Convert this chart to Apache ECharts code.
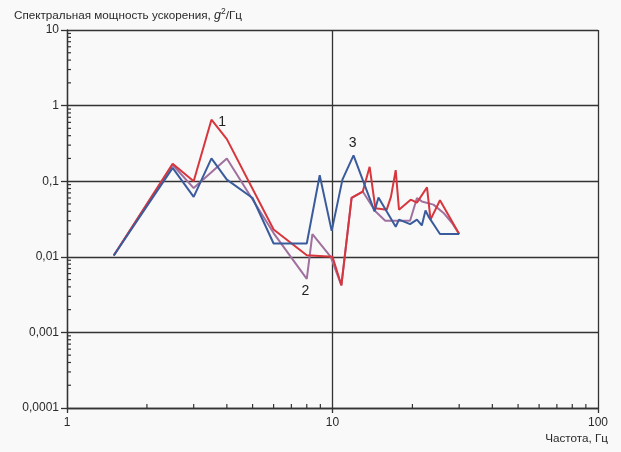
<!DOCTYPE html>
<html>
<head>
<meta charset="utf-8">
<script src="https://cdn.jsdelivr.net/npm/echarts@6/dist/echarts.min.js"></script>
<style>
html,body{margin:0;padding:0;background:#f9f9f9;}
#c{width:621px;height:452px;}
</style>
</head>
<body>
<div id="c"></div>
<script>
// ---- data ----
var freq1 = [1.5, 2.5, 3, 3.5, 4, 6, 8, 10, 10.8, 11.8, 13, 13.8, 14.5, 16, 16.6, 17.3, 17.8, 19.7, 20.8, 22.7, 23.4, 25.4, 30];
var psd1  = [0.0104, 0.17, 0.1, 0.65, 0.36, 0.023, 0.0105, 0.01, 0.0042, 0.06, 0.073, 0.155, 0.044, 0.042, 0.062, 0.14, 0.042, 0.057, 0.052, 0.083, 0.031, 0.056, 0.02];

var freq2 = [1.5, 2.5, 3, 4, 6, 8, 8.4, 9.85, 10.8, 11.8, 13, 14.5, 15.8, 19.6, 20.8, 21.7, 24, 26.2, 28.2, 30];
var psd2  = [0.0104, 0.165, 0.081, 0.2, 0.0206, 0.0051, 0.02, 0.01, 0.0042, 0.06, 0.073, 0.04, 0.03, 0.03, 0.06, 0.054, 0.049, 0.038, 0.028, 0.02];

var freq3 = [1.5, 2.5, 3, 3.5, 4, 5, 6, 8, 8.95, 9.93, 10.9, 12, 14.4, 14.9, 17.3, 17.8, 19.6, 20.8, 21.7, 22.4, 23, 25.4, 30];
var psd3  = [0.0104, 0.15, 0.062, 0.2, 0.105, 0.06, 0.015, 0.015, 0.12, 0.022, 0.105, 0.22, 0.04, 0.061, 0.025, 0.031, 0.027, 0.031, 0.026, 0.041, 0.034, 0.02, 0.02];

var curveNames = ['1', '2', '3'];
var labelX = [3.84, 7.9, 11.9];
var labelY = [0.61, 0.0035, 0.32];

var yTickLabels = ['0,0001', '0,001', '0,01', '0,1', '1', '10'];
var xTickLabels = ['1', '10', '100'];
var yTitle = 'Спектральная мощность ускорения, ';
var xTitle = 'Частота, Гц';

var colors = ['#d7363d', '#a0709f', '#3b5c9c'];

// minor tick values (axis decoration)
var xMinor = [], yMinor = [];
[1, 10].forEach(function (d) { for (var k = 2; k <= 9; k++) xMinor.push([k * d, 0.0001]); });
[0.0001, 0.001, 0.01, 0.1, 1].forEach(function (d) { for (var k = 2; k <= 9; k++) yMinor.push([1, +(k * d).toPrecision(3)]); });

function zip(a, b) { return a.map(function (v, i) { return [v, b[i]]; }); }

var axisCol = '#333';
var txtCol = '#2a2a2a';
var chart = echarts.init(document.getElementById('c'), null, { renderer: 'canvas' });

function lineSeries(idx, xs, ys) {
  return {
    type: 'line', data: zip(xs, ys), symbol: 'none',
    lineStyle: { color: colors[idx], width: 2 },
    itemStyle: { color: colors[idx] },
    z: idx === 2 ? 4 : (idx === 0 ? 3 : 2),
    markPoint: {
      symbol: 'circle', symbolSize: 0, silent: true,
      label: { show: true, position: 'inside', color: '#222', fontSize: 14, fontFamily: 'Liberation Sans, Arial', formatter: curveNames[idx] },
      data: [{ coord: [labelX[idx], labelY[idx]] }]
    }
  };
}

var option = {
  backgroundColor: '#f9f9f9',
  animation: false,
  title: {
    left: 9, top: 2,
    text: yTitle + '{i|g}{s|2}/Гц',
    textStyle: {
      fontSize: 11.7, fontWeight: 'normal', color: txtCol, fontFamily: 'Liberation Sans, Arial',
      rich: {
        i: { fontStyle: 'italic', fontSize: 12.5, color: txtCol, fontFamily: 'Liberation Sans, Arial' },
        s: { fontSize: 8.5, verticalAlign: 'top', padding: [0, 0, 8, 0], color: txtCol, fontFamily: 'Liberation Sans, Arial' }
      }
    }
  },
  grid: { left: 67, right: 23, top: 30, bottom: 44, containLabel: false },
  xAxis: {
    type: 'log', logBase: 10, min: 1, max: 100,
    name: xTitle, nameLocation: 'end', nameGap: 10,
    nameTextStyle: { align: 'right', verticalAlign: 'top', padding: [25, 0, 0, 0], fontSize: 11.7, color: txtCol, fontFamily: 'Liberation Sans, Arial' },
    axisLine: { lineStyle: { color: axisCol, width: 1.3 } },
    axisTick: { show: true, length: 5, lineStyle: { color: axisCol, width: 1.3 } },
    axisLabel: { fontSize: 12, color: txtCol, margin: 9, fontFamily: 'Liberation Sans, Arial',
      formatter: function (v) { return xTickLabels[Math.round(Math.log10(v))]; } },
    splitLine: { show: true, lineStyle: { color: axisCol, width: 1.3 } },
    minorTick: { show: false }
  },
  yAxis: {
    type: 'log', logBase: 10, min: 0.0001, max: 10,
    axisLine: { lineStyle: { color: axisCol, width: 1.3 } },
    axisTick: { show: true, length: 6, lineStyle: { color: axisCol, width: 1.3 } },
    axisLabel: { fontSize: 12, color: txtCol, margin: 8, fontFamily: 'Liberation Sans, Arial',
      formatter: function (v) { return yTickLabels[Math.round(Math.log10(v)) + 4]; } },
    splitLine: { show: true, lineStyle: { color: axisCol, width: 1.3 } }
  },
  series: [
    {
      type: 'custom', data: xMinor, silent: true, z: 1, clip: false,
      renderItem: function (params, api) {
        var p = api.coord([api.value(0), api.value(1)]);
        return { type: 'line', shape: { x1: p[0], y1: p[1], x2: p[0], y2: p[1] - 4 }, style: { stroke: axisCol, lineWidth: 1.2 } };
      }
    },
    {
      type: 'custom', data: yMinor, silent: true, z: 1, clip: false,
      renderItem: function (params, api) {
        var p = api.coord([api.value(0), api.value(1)]);
        return { type: 'line', shape: { x1: p[0], y1: p[1], x2: p[0] + 4, y2: p[1] }, style: { stroke: axisCol, lineWidth: 1.2 } };
      }
    },
    lineSeries(1, freq2, psd2),
    lineSeries(0, freq1, psd1),
    lineSeries(2, freq3, psd3)
  ]
};
chart.setOption(option);
</script>
</body>
</html>
